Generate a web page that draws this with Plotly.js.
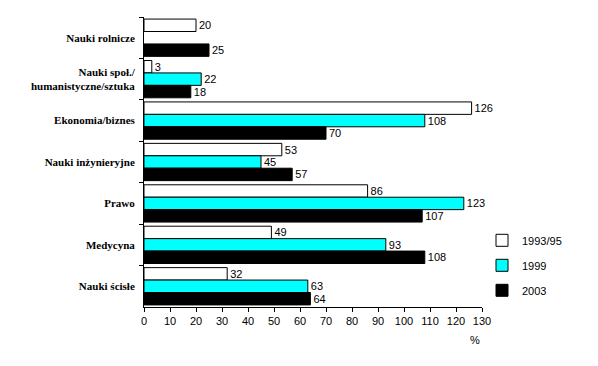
<!DOCTYPE html>
<html><head><meta charset="utf-8">
<script src="https://cdn.plot.ly/plotly-3.0.1.min.js"></script>
<style>body{margin:0;padding:0;background:#fff}#chart{width:598px;height:366px}</style>
</head><body><div id="chart"></div>
<script>
const categories = ["Nauki rolnicze", "Nauki społ./<br>humanistyczne/sztuka", "Ekonomia/biznes", "Nauki inżynieryjne", "Prawo", "Medycyna", "Nauki ścisłe"];
const seriesNames = ["1993/95", "1999", "2003"];
const v1993 = [20, 3, 126, 53, 86, 49, 32];
const v1999 = [null, 22, 108, 45, 123, 93, 63];
const v2003 = [25, 18, 70, 57, 107, 108, 64];
const xTicks = [0,10,20,30,40,50,60,70,80,90,100,110,120,130];

const colors = ["#ffffff", "#00ffff", "#000000"];
const vals = [v1993, v1999, v2003];
const numFont = {family: "Liberation Sans", size: 11, color: "#000"};

const data = vals.map((v, i) => ({
  type: "bar", orientation: "h",
  name: seriesNames[i], legendgroup: "g" + i, y: categories, x: v,
  marker: {color: colors[i], line: {color: "#000", width: 1}},
  text: v.map(d => d === null ? "" : String(d)),
  textposition: "outside", textfont: numFont, cliponaxis: false,
  hoverinfo: "none"
}));

const layout = {
  width: 598, height: 366,
  margin: {l: 144, r: 116, t: 17, b: 59},
  paper_bgcolor: "#fff", plot_bgcolor: "#fff",
  font: {family: "Liberation Serif", size: 11, color: "#000"},
  barmode: "group", bargap: 0.1, bargroupgap: 0,
  showlegend: true,
  legend: {x: 1.0, y: 0.28, xanchor: "left", yanchor: "top", font: numFont,
           traceorder: "grouped", itemwidth: 30, tracegroupgap: 6, bgcolor: "rgba(0,0,0,0)"},
  xaxis: {range: [0, 130], tickvals: xTicks, showgrid: false, zeroline: false,
          showline: true, linecolor: "#000", linewidth: 1, ticks: "outside", ticklen: 4,
          tickcolor: "#000", tickfont: numFont, fixedrange: true},
  yaxis: {autorange: "reversed", showgrid: false, zeroline: false, showline: true,
          linecolor: "#000", linewidth: 1, ticks: "outside", ticklen: 4, tickcolor: "#000",
          tickson: "boundaries", ticklabelstandoff: 6,
          tickfont: {family: "Liberation Serif", size: 11, color: "#000", weight: 700},
          fixedrange: true},
  annotations: [{text: "%", xref: "paper", yref: "paper", x: (475-144)/338, y: -33/290,
                 xanchor: "center", yanchor: "middle", showarrow: false, font: numFont}]
};
Plotly.newPlot("chart", data, layout, {displayModeBar: false, staticPlot: true});
</script></body></html>
